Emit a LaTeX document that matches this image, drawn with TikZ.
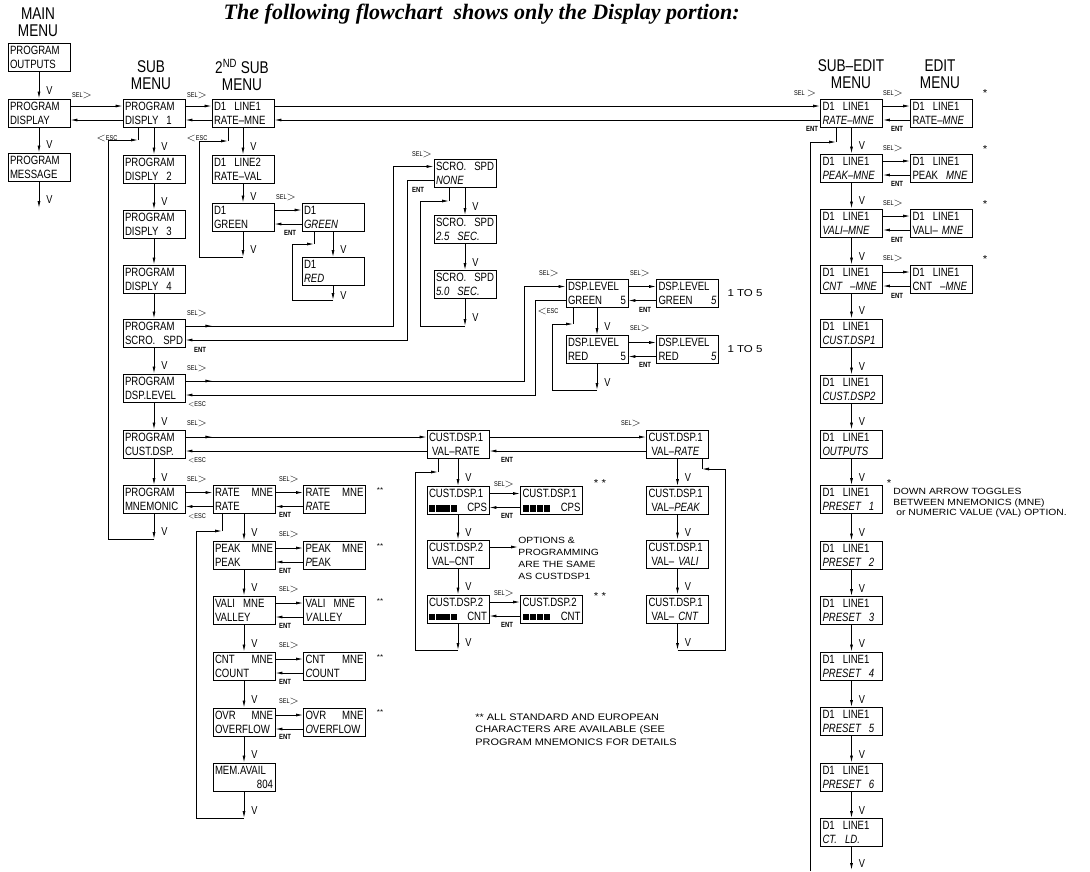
\documentclass[tikz,border=0pt]{standalone}
\usepackage{fontspec}
\usetikzlibrary{arrows.meta}
\newfontfamily\lcdfont[FakeStretch=0.8]{Liberation Sans}
\newfontfamily\notefont[FakeStretch=1.15]{Liberation Sans}
\newfontfamily\titlefont{Liberation Serif}

\newcommand{\selmark}{{\fontsize{7}{7}\selectfont SEL}\raisebox{-1pt}{\fontsize{13}{13}\selectfont$>$}}
\newcommand{\entmark}{{\fontsize{7.5}{7.5}\selectfont\bfseries ENT}}
\newcommand{\escmark}{\raisebox{-1pt}{\fontsize{13}{13}\selectfont$<$}{\fontsize{7}{7}\selectfont ESC}}
\newcommand{\escsmall}{{\fontsize{7}{7}\selectfont$<$ESC}}
\newcommand{\blocks}{\rule{6.3pt}{6.6pt}\hspace{0.9pt}\rule{6.3pt}{6.6pt}\hspace{0.9pt}\rule{6.3pt}{6.6pt}\hspace{0.9pt}\rule{6.3pt}{6.6pt}}

\begin{document}
\begin{tikzpicture}[x=1pt,y=-1pt,line width=0.8pt,>={Latex[length=7pt,width=3pt]},
	lcd/.style={draw,line width=0.9pt,minimum width=62pt,minimum height=28pt,text width=58pt,
		inner xsep=2pt,inner ysep=2pt,align=left,font=\lcdfont\fontsize{12}{14}\selectfont},
	lbl/.style={inner sep=0pt,font=\lcdfont},
	vlab/.style={pos=0.7,anchor=west,xshift=7pt,inner sep=0pt,font=\lcdfont\fontsize{11.5}{11.5}\selectfont},
	menu/.style={align=center,inner sep=0pt,font=\lcdfont\fontsize{17}{17}\selectfont},
	astnote/.style={inner sep=0pt,font=\notefont\fontsize{10}{10}\selectfont},
	remark/.style={anchor=north west,align=left,inner sep=0pt}]
		\useasboundingbox (0,0) rectangle (1090,871);
		
		%Headings
		\node[anchor=west,font=\titlefont\bfseries\itshape\fontsize{22}{22}\selectfont] (title) at (220,14) {The following flowchart\ \ shows only the Display portion:};
		\node[menu] (hMain) at (38,22) {MAIN\\MENU};
		\node[menu] (hSub) at (151,75) {SUB\\MENU};
		\node[menu] (hSubTwo) at (242,75) {2\textsuperscript{ND} SUB\\MENU};
		\node[menu] (hSubEdit) at (851,74) {SUB\textendash EDIT\\MENU};
		\node[menu] (hEdit) at (940,74) {EDIT\\MENU};
		
		%Main menu
		\node[lcd] (mOut) at (39,57) {PROGRAM\\OUTPUTS};
		\node[lcd] (mDisp) at (39,113) {PROGRAM\\DISPLAY};
		\node[lcd] (mMsg) at (39,167) {PROGRAM\\MESSAGE};
		\coordinate (mEnd) at (39,208);
		
		%Sub menu
		\node[lcd] (s1) at (154,113) {PROGRAM\\DISPLY\ \ 1};
		\node[lcd] (s2) at (154,169) {PROGRAM\\DISPLY\ \ 2};
		\node[lcd] (s3) at (154,224) {PROGRAM\\DISPLY\ \ 3};
		\node[lcd] (s4) at (154,279) {PROGRAM\\DISPLY\ \ 4};
		\node[lcd] (sScro) at (154,333) {PROGRAM\\SCRO.\hfill SPD};
		\node[lcd] (sLevel) at (154,388) {PROGRAM\\DSP.LEVEL};
		\node[lcd] (sCust) at (154,444) {PROGRAM\\CUST.DSP.};
		\node[lcd] (sMne) at (154,499.5) {PROGRAM\\MNEMONIC};
		\coordinate (sEnd) at (154,539);
		\coordinate (sLp1) at (108,140);
		\coordinate (sLp2) at (138,140);
		
		%2nd sub menu
		\node[lcd] (d1) at (243,113) {D1\ \ LINE1\\RATE\textendash MNE};
		\node[lcd] (d2) at (243,169) {D1\ \ LINE2\\RATE\textendash VAL};
		\node[lcd] (dGrn) at (243,217) {D1\\GREEN};
		\coordinate (dEnd) at (243,257);
		\coordinate (dLp1) at (199,141);
		\coordinate (dLp2) at (228,141);
		\node[lcd] (dGrnE) at (333,217) {D1\\\textit{GREEN}};
		\node[lcd] (dRed) at (333,271.5) {D1\\\textit{RED}};
		\coordinate (dRedEnd) at (333,300);
		\coordinate (rLp1) at (292,244);
		\coordinate (rLp2) at (314,244);
		
		%Scroll speed
		\node[lcd] (spNone) at (465,173.5) {SCRO.\hfill SPD\\\textit{NONE}};
		\node[lcd] (sp25) at (465,229.5) {SCRO.\hfill SPD\\\textit{2.5\ \ SEC.}};
		\node[lcd] (sp50) at (465,284.5) {SCRO.\hfill SPD\\\textit{5.0\ \ SEC.}};
		\coordinate (spEnd) at (465,326);
		\coordinate (spLp1) at (420,201);
		\coordinate (spLp2) at (449,201);
		
		%Display level
		\node[lcd] (lvG) at (597,293.5) {DSP.LEVEL\\GREEN\hfill 5};
		\node[lcd] (lvGE) at (687.5,293.5) {DSP.LEVEL\\GREEN\hfill\textit{5}};
		\node[lcd] (lvR) at (597,349.5) {DSP.LEVEL\\RED\hfill 5};
		\node[lcd] (lvRE) at (687.5,349.5) {DSP.LEVEL\\RED\hfill\textit{5}};
		\coordinate (lvEnd) at (597,390);
		\coordinate (lvLp1) at (552,324);
		\coordinate (lvLp2) at (573,324);
		\node[inner sep=0pt,font=\notefont\fontsize{10}{10}\selectfont] (lvRangeG) at (745,293.5) {1\ TO\ 5};
		\node[inner sep=0pt,font=\notefont\fontsize{10}{10}\selectfont] (lvRangeR) at (745,349.5) {1\ TO\ 5};
		
		%Custom display
		\node[lcd] (cu1) at (458,444) {CUST.DSP.1\\\hspace*{3pt}VAL\textendash RATE};
		\node[lcd] (cu1E) at (677.5,444) {CUST.DSP.1\\\hspace*{3pt}VAL\textendash\textit{RATE}};
		\node[lcd] (cuCps) at (458,500.5) {CUST.DSP.1\\\blocks\hfill CPS};
		\node[lcd] (cuCpsE) at (551.5,500.5) {CUST.DSP.1\\\blocks\hfill CPS};
		\node[lcd] (cu2) at (458,554) {CUST.DSP.2\\\hspace*{3pt}VAL\textendash CNT};
		\node[lcd] (cuCnt) at (458,609) {CUST.DSP.2\\\blocks\hfill CNT};
		\node[lcd] (cuCntE) at (551.5,609) {CUST.DSP.2\\\blocks\hfill CNT};
		\coordinate (cuEnd) at (458,650);
		\coordinate (cuLp1) at (415,472);
		\coordinate (cuLp2) at (438,472);
		\node[lcd] (cuPeak) at (677.5,500.5) {CUST.DSP.1\\\hspace*{3pt}VAL\textendash\textit{PEAK}};
		\node[lcd] (cuVali) at (677.5,554) {CUST.DSP.1\\\hspace*{3pt}VAL\textendash\ \textit{VALI}};
		\node[lcd] (cuCntR) at (677.5,609) {CUST.DSP.1\\\hspace*{3pt}VAL\textendash\ \textit{CNT}};
		\coordinate (cuEndR) at (677.5,650);
		\coordinate (cuRp1) at (725,469);
		\coordinate (cuRp2) at (702,469);
		\node[remark,font=\notefont\fontsize{9}{12}\selectfont] (optNote) at (518,537) {OPTIONS \&\\PROGRAMMING\\ARE THE SAME\\AS CUSTDSP1};
		
		%Mnemonics
		\node[lcd] (mnRate) at (244,499.5) {RATE\hfill MNE\\RATE};
		\node[lcd] (mnRateE) at (334.5,499.5) {RATE\hfill MNE\\\textit{R}ATE};
		\node[lcd] (mnPeak) at (244,555) {PEAK\hfill MNE\\PEAK};
		\node[lcd] (mnPeakE) at (334.5,555) {PEAK\hfill MNE\\\textit{P}EAK};
		\node[lcd] (mnVali) at (244,610) {VALI\ \ MNE\\VALLEY};
		\node[lcd] (mnValiE) at (334.5,610) {VALI\ \ MNE\\\textit{V}ALLEY};
		\node[lcd] (mnCnt) at (244,666) {CNT\hfill MNE\\COUNT};
		\node[lcd] (mnCntE) at (334.5,666) {CNT\hfill MNE\\\textit{C}OUNT};
		\node[lcd] (mnOvr) at (244,722) {OVR\hfill MNE\\OVERFLOW};
		\node[lcd] (mnOvrE) at (334.5,722) {OVR\hfill MNE\\\textit{O}VERFLOW};
		\node[lcd] (mnMem) at (244,777) {MEM.AVAIL\\\hspace*{\fill}804};
		\coordinate (mnEnd) at (244,818);
		\coordinate (mnLp1) at (196,531);
		\coordinate (mnLp2) at (222,531);
		
		%Sub-edit and edit menu
		\node[lcd] (se1) at (851.5,113) {D1\ \ LINE1\\\textit{RATE\textendash MNE}};
		\node[lcd] (seE1) at (941.5,113) {D1\ \ LINE1\\RATE\textendash\textit{MNE}};
		\node[lcd] (se2) at (851.5,168) {D1\ \ LINE1\\\textit{PEAK\textendash MNE}};
		\node[lcd] (seE2) at (941.5,168) {D1\ \ LINE1\\PEAK\ \ \textit{MNE}};
		\node[lcd] (se3) at (851.5,223) {D1\ \ LINE1\\\textit{VALI\textendash MNE}};
		\node[lcd] (seE3) at (941.5,223) {D1\ \ LINE1\\VALI\textendash\ \textit{MNE}};
		\node[lcd] (se4) at (851.5,279) {D1\ \ LINE1\\\textit{CNT\ \ \textendash MNE}};
		\node[lcd] (seE4) at (941.5,279) {D1\ \ LINE1\\CNT\ \ \textendash\textit{MNE}};
		\node[lcd] (seDspA) at (851.5,333) {D1\ \ LINE1\\\textit{CUST.DSP1}};
		\node[lcd] (seDspB) at (851.5,389) {D1\ \ LINE1\\\textit{CUST.DSP2}};
		\node[lcd] (seOut) at (851.5,444) {D1\ \ LINE1\\\textit{OUTPUTS}};
		\node[lcd] (seP1) at (851.5,499.5) {D1\ \ LINE1\\\textit{PRESET\ \ 1}};
		\node[lcd] (seP2) at (851.5,555) {D1\ \ LINE1\\\textit{PRESET\ \ 2}};
		\node[lcd] (seP3) at (851.5,610.5) {D1\ \ LINE1\\\textit{PRESET\ \ 3}};
		\node[lcd] (seP4) at (851.5,666) {D1\ \ LINE1\\\textit{PRESET\ \ 4}};
		\node[lcd] (seP5) at (851.5,721.5) {D1\ \ LINE1\\\textit{PRESET\ \ 5}};
		\node[lcd] (seP6) at (851.5,777) {D1\ \ LINE1\\\textit{PRESET\ \ 6}};
		\node[lcd] (seCt) at (851.5,832.5) {D1\ \ LINE1\\\textit{CT.\ \ LD.}};
		\coordinate (seEnd) at (851.5,870);
		\coordinate (seLp1) at (810,871);
		\coordinate (seLp2) at (836,142);
		
		%Down arrows
		\draw[->] (mOut) -- (mDisp) node[vlab] {V};
		\draw[->] (mDisp) -- (mMsg) node[vlab] {V};
		\draw[->] (mMsg) -- (mEnd) node[vlab] {V};
		
		\draw[->] (s1) -- (s2) node[vlab] {V};
		\draw[->] (s2) -- (s3) node[vlab] {V};
		\draw[->] (s3) -- (s4);
		\draw[->] (s4) -- (sScro);
		\draw[->] (sScro) -- (sLevel) node[vlab] {V};
		\draw[->] (sLevel) -- (sCust) node[vlab] {V};
		\draw[->] (sCust) -- (sMne) node[vlab] {V};
		\draw[->] (sMne) -- (sEnd) node[vlab] {V};
		
		\draw[->] (d1) -- (d2) node[vlab] {V};
		\draw[->] (d2) -- (dGrn) node[vlab] {V};
		\draw[->] (dGrn) -- (dEnd) node[vlab] {V};
		\draw[->] (dGrnE) -- (dRed) node[vlab] {V};
		\draw[->] (dRed) -- (dRedEnd) node[vlab] {V};
		
		\draw[->] (spNone) -- (sp25) node[vlab] {V};
		\draw[->] (sp25) -- (sp50) node[vlab] {V};
		\draw[->] (sp50) -- (spEnd) node[vlab] {V};
		
		\draw[->] (lvG) -- (lvR) node[vlab] {V};
		\draw[->] (lvR) -- (lvEnd) node[vlab] {V};
		
		\draw[->] (cu1) -- (cuCps) node[vlab] {V};
		\draw[->] (cuCps) -- (cu2) node[vlab] {V};
		\draw[->] (cu2) -- (cuCnt) node[vlab] {V};
		\draw[->] (cuCnt) -- (cuEnd) node[vlab] {V};
		\draw[->] (cu1E) -- (cuPeak) node[vlab] {V};
		\draw[->] (cuPeak) -- (cuVali) node[vlab] {V};
		\draw[->] (cuVali) -- (cuCntR) node[vlab] {V};
		\draw[->] (cuCntR) -- (cuEndR) node[vlab] {V};
		
		\draw[->] (mnRate) -- (mnPeak) node[vlab] {V};
		\draw[->] (mnPeak) -- (mnVali) node[vlab] {V};
		\draw[->] (mnVali) -- (mnCnt) node[vlab] {V};
		\draw[->] (mnCnt) -- (mnOvr) node[vlab] {V};
		\draw[->] (mnOvr) -- (mnMem) node[vlab] {V};
		\draw[->] (mnMem) -- (mnEnd) node[vlab] {V};
		
		\draw[->] (se1) -- (se2) node[vlab] {V};
		\draw[->] (se2) -- (se3) node[vlab] {V};
		\draw[->] (se3) -- (se4) node[vlab] {V};
		\draw[->] (se4) -- (seDspA) node[vlab] {V};
		\draw[->] (seDspA) -- (seDspB) node[vlab] {V};
		\draw[->] (seDspB) -- (seOut) node[vlab] {V};
		\draw[->] (seOut) -- (seP1) node[vlab] {V};
		\draw[->] (seP1) -- (seP2) node[vlab] {V};
		\draw[->] (seP2) -- (seP3) node[vlab] {V};
		\draw[->] (seP3) -- (seP4) node[vlab] {V};
		\draw[->] (seP4) -- (seP5) node[vlab] {V};
		\draw[->] (seP5) -- (seP6) node[vlab] {V};
		\draw[->] (seP6) -- (seCt) node[vlab] {V};
		\draw[->] (seCt) -- (seEnd) node[vlab] {V};
		
		%Loops back up
		\draw[->] (sEnd) -| (sLp1) -- (sLp2);
		\draw (sLp2) -- (sLp2 |- s1.south);
		\draw[->] (dEnd) -| (dLp1) -- (dLp2);
		\draw (dLp2) -- (dLp2 |- d1.south);
		\draw[->] (dRedEnd) -| (rLp1) -- (rLp2);
		\draw (rLp2) -- (rLp2 |- dGrnE.south);
		\draw[->] (spEnd) -| (spLp1) -- (spLp2);
		\draw (spLp2) -- (spLp2 |- spNone.south);
		\draw[->] (lvEnd) -| (lvLp1) -- (lvLp2);
		\draw (lvLp2) -- (lvLp2 |- lvG.south);
		\draw[->] (cuEnd) -| (cuLp1) -- (cuLp2);
		\draw (cuLp2) -- (cuLp2 |- cu1.south);
		\draw[->] (cuEndR) -| (cuRp1) -- (cuRp2);
		\draw (cuRp2) -- (cuRp2 |- cu1E.south);
		\draw[->] (mnEnd) -| (mnLp1) -- (mnLp2);
		\draw (mnLp2) -- (mnLp2 |- mnRate.south);
		\draw[->] (seLp1) |- (seLp2);
		\draw (seLp2) -- (seLp2 |- se1.south);
		
		%Select and return lines
		\draw[->] ([yshift=7pt]mDisp.east) -- ([yshift=7pt]s1.west);
		\draw[->] ([yshift=-7pt]s1.west) -- ([yshift=-7pt]mDisp.east);
		\draw[->] ([yshift=7pt]s1.east) -- ([yshift=7pt]d1.west);
		\draw[->] ([yshift=-7pt]d1.west) -- ([yshift=-7pt]s1.east);
		\draw[->] ([yshift=7pt]d1.east) -- ([yshift=7pt]se1.west);
		\draw[->] ([yshift=-7pt]se1.west) -- ([yshift=-7pt]d1.east);
		\draw[->] ([yshift=7pt]dGrn.east) -- ([yshift=7pt]dGrnE.west);
		\draw[->] ([yshift=-7pt]dGrnE.west) -- ([yshift=-7pt]dGrn.east);
		
		\draw[->] ([yshift=7pt]sScro.east) -- ++(27,0);
		\draw[->] ([yshift=7pt]sScro.east) -- ++(208,0) |- ([yshift=7pt]spNone.west);
		\draw[->] ([yshift=-7pt]spNone.west) -- ++(-26,0) |- ([yshift=-7pt]sScro.east);
		
		\draw[->] ([yshift=7pt]sLevel.east) -- ++(27,0);
		\draw[->] ([yshift=7pt]sLevel.east) -- ++(339,0) |- ([yshift=7pt]lvG.west);
		\draw[->] ([yshift=-7pt]lvG.west) -- ++(-30,0) |- ([yshift=-7pt]sLevel.east);
		\draw[->] ([yshift=7pt]lvG.east) -- ([yshift=7pt]lvGE.west);
		\draw[->] ([yshift=-7pt]lvGE.west) -- ([yshift=-7pt]lvG.east);
		\draw[->] ([yshift=7pt]lvR.east) -- ([yshift=7pt]lvRE.west);
		\draw[->] ([yshift=-7pt]lvRE.west) -- ([yshift=-7pt]lvR.east);
		
		\draw[->] ([yshift=7pt]sCust.east) -- ++(27,0);
		\draw[->] ([yshift=7pt]sCust.east) -- ([yshift=7pt]cu1.west);
		\draw[->] ([yshift=-7pt]cu1.west) -- ([yshift=-7pt]sCust.east);
		\draw[->] ([yshift=7pt]cu1.east) -- ([yshift=7pt]cu1E.west);
		\draw[->] ([yshift=-7pt]cu1E.west) -- ([yshift=-7pt]cu1.east);
		\draw[->] ([yshift=7pt]cuCps.east) -- ([yshift=7pt]cuCpsE.west);
		\draw[->] ([yshift=-7pt]cuCpsE.west) -- ([yshift=-7pt]cuCps.east);
		\draw[->] ([yshift=7pt]cuCnt.east) -- ([yshift=7pt]cuCntE.west);
		\draw[->] ([yshift=-7pt]cuCntE.west) -- ([yshift=-7pt]cuCnt.east);
		\draw[->] ([yshift=7pt]cu2.east) -- ([yshift=7pt]cu2.east -| optNote.west);
		
		\draw[->] ([yshift=7pt]sMne.east) -- ([yshift=7pt]mnRate.west);
		\draw[->] ([yshift=-7pt]mnRate.west) -- ([yshift=-7pt]sMne.east);
		\draw[->] ([yshift=7pt]mnRate.east) -- ([yshift=7pt]mnRateE.west);
		\draw[->] ([yshift=-7pt]mnRateE.west) -- ([yshift=-7pt]mnRate.east);
		\draw[->] ([yshift=7pt]mnPeak.east) -- ([yshift=7pt]mnPeakE.west);
		\draw[->] ([yshift=-7pt]mnPeakE.west) -- ([yshift=-7pt]mnPeak.east);
		\draw[->] ([yshift=7pt]mnVali.east) -- ([yshift=7pt]mnValiE.west);
		\draw[->] ([yshift=-7pt]mnValiE.west) -- ([yshift=-7pt]mnVali.east);
		\draw[->] ([yshift=7pt]mnCnt.east) -- ([yshift=7pt]mnCntE.west);
		\draw[->] ([yshift=-7pt]mnCntE.west) -- ([yshift=-7pt]mnCnt.east);
		\draw[->] ([yshift=7pt]mnOvr.east) -- ([yshift=7pt]mnOvrE.west);
		\draw[->] ([yshift=-7pt]mnOvrE.west) -- ([yshift=-7pt]mnOvr.east);
		
		\draw[->] ([yshift=7pt]se1.east) -- ([yshift=7pt]seE1.west);
		\draw[->] ([yshift=-7pt]seE1.west) -- ([yshift=-7pt]se1.east);
		\draw[->] ([yshift=7pt]se2.east) -- ([yshift=7pt]seE2.west);
		\draw[->] ([yshift=-7pt]seE2.west) -- ([yshift=-7pt]se2.east);
		\draw[->] ([yshift=7pt]se3.east) -- ([yshift=7pt]seE3.west);
		\draw[->] ([yshift=-7pt]seE3.west) -- ([yshift=-7pt]se3.east);
		\draw[->] ([yshift=7pt]se4.east) -- ([yshift=7pt]seE4.west);
		\draw[->] ([yshift=-7pt]seE4.west) -- ([yshift=-7pt]se4.east);
		
		%Key labels
		\node[lbl] (selA) at (82,95) {\selmark};
		\node[lbl] (selB) at (197,95) {\selmark};
		\node[lbl] (selC) at (805,93) {{\fontsize{7}{7}\selectfont SEL}\ \raisebox{-1pt}{\fontsize{13}{13}\selectfont$>$}};
		\node[lbl] (selD) at (893,93) {\selmark};
		\node[lbl] (selE) at (893,148) {\selmark};
		\node[lbl] (selF) at (893,203) {\selmark};
		\node[lbl] (selG) at (893,258) {\selmark};
		\node[lbl] (selH) at (286,197) {\selmark};
		\node[lbl] (selI) at (422,154) {\selmark};
		\node[lbl] (selJ) at (197,313) {\selmark};
		\node[lbl] (selK) at (197,368) {\selmark};
		\node[lbl] (selL) at (549,273) {\selmark};
		\node[lbl] (selM) at (640,273) {\selmark};
		\node[lbl] (selN) at (640,328) {\selmark};
		\node[lbl] (selO) at (197,423) {\selmark};
		\node[lbl] (selP) at (631,423) {\selmark};
		\node[lbl] (selQ) at (504,484) {\selmark};
		\node[lbl] (selR) at (504,593) {\selmark};
		\node[lbl] (selS) at (197,479) {\selmark};
		\node[lbl] (selT) at (289,479) {\selmark};
		\node[lbl] (selU) at (289,534) {\selmark};
		\node[lbl] (selV) at (289,589) {\selmark};
		\node[lbl] (selW) at (289,645) {\selmark};
		\node[lbl] (selX) at (289,701) {\selmark};
		
		\node[lbl] (entA) at (290,233) {\entmark};
		\node[lbl] (entB) at (418,190) {\entmark};
		\node[lbl] (entC) at (200,350) {\entmark};
		\node[lbl] (entD) at (645,310) {\entmark};
		\node[lbl] (entE) at (645,365) {\entmark};
		\node[lbl] (entF) at (507,460) {\entmark};
		\node[lbl] (entG) at (507,516) {\entmark};
		\node[lbl] (entH) at (507,625) {\entmark};
		\node[lbl] (entI) at (285,515) {\entmark};
		\node[lbl] (entJ) at (285,571) {\entmark};
		\node[lbl] (entK) at (285,626) {\entmark};
		\node[lbl] (entL) at (285,682) {\entmark};
		\node[lbl] (entM) at (285,737) {\entmark};
		\node[lbl] (entN) at (812,129) {\entmark};
		\node[lbl] (entO) at (897,129) {\entmark};
		\node[lbl] (entP) at (897,184) {\entmark};
		\node[lbl] (entQ) at (897,240) {\entmark};
		\node[lbl] (entR) at (897,296) {\entmark};
		
		\node[lbl] (escA) at (107,138) {\escmark};
		\node[lbl] (escB) at (197,138) {\escmark};
		\node[lbl] (escC) at (548,311) {\escmark};
		\node[lbl] (escD) at (197,404) {\escsmall};
		\node[lbl] (escE) at (197,460) {\escsmall};
		\node[lbl] (escF) at (197,516) {\escsmall};
		
		%Annotations
		\node[astnote,font=\notefont\fontsize{7}{7}\selectfont] (astRate) at (380,490) {**};
		\node[astnote,font=\notefont\fontsize{7}{7}\selectfont] (astPeak) at (380,546) {**};
		\node[astnote,font=\notefont\fontsize{7}{7}\selectfont] (astVali) at (380,601) {**};
		\node[astnote,font=\notefont\fontsize{7}{7}\selectfont] (astCnt) at (380,657) {**};
		\node[astnote,font=\notefont\fontsize{7}{7}\selectfont] (astOvr) at (380,712) {**};
		\node[astnote] (astCps) at (600,483) {*\ *};
		\node[astnote] (astCntB) at (600,596) {*\ *};
		\node[astnote] (astE1) at (985,93) {*};
		\node[astnote] (astE2) at (985,149) {*};
		\node[astnote] (astE3) at (985,204) {*};
		\node[astnote] (astE4) at (985,259) {*};
		\node[astnote] (astTgl) at (889,483) {*};
		\node[remark,font=\notefont\fontsize{9}{10.5}\selectfont] (tglNote) at (893,488) {DOWN ARROW TOGGLES\\BETWEEN MNEMONICS (MNE)\\\hspace*{3pt}or NUMERIC VALUE (VAL) OPTION.};
		\node[remark,font=\notefont\fontsize{9.5}{12.5}\selectfont] (charNote) at (475,713) {** ALL STANDARD AND EUROPEAN\\CHARACTERS ARE AVAILABLE (SEE\\PROGRAM MNEMONICS FOR DETAILS};
		
	\end{tikzpicture}
\end{document}
